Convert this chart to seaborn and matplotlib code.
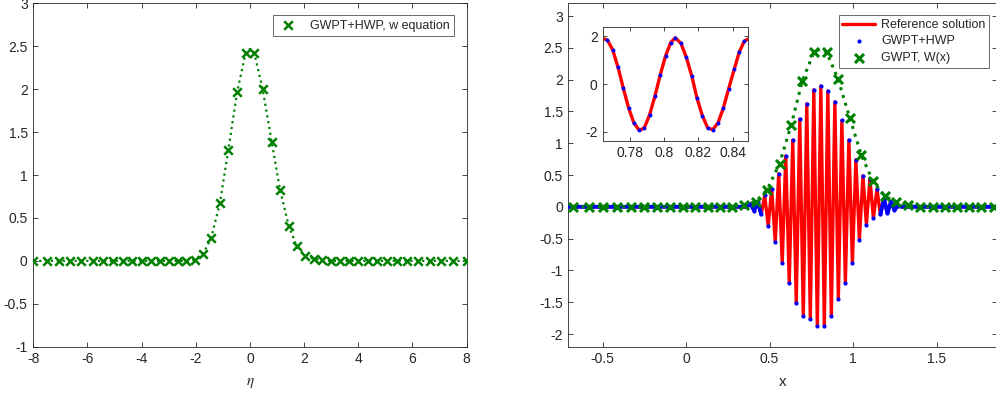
import numpy as np
import seaborn as sns
import matplotlib
matplotlib.use('Agg')
import matplotlib.pyplot as plt
from matplotlib.ticker import FuncFormatter, MultipleLocator

# ---- left panel: w(eta) from the w equation ----
eta_nodes = [-8.0, -7.5, -7.04, -6.63, -6.22, -5.81, -5.44, -5.07, -4.70, -4.36, -4.0, -3.66,
             -3.32, -3.0, -2.67, -2.37, -2.03, -1.72, -1.43, -1.11, -0.80, -0.47, -0.16,
             0.16, 0.47, 0.80, 1.11, 1.43, 1.72, 2.03, 2.37, 2.67, 3.0, 3.32, 3.66, 4.0,
             4.36, 4.70, 5.07, 5.44, 5.81, 6.22, 6.63, 7.04, 7.5, 8.0]
w_nodes = [0, 0, 0, 0, 0, 0, 0, 0, 0, 0, 0, 0,
           0, 0, 0, 0, 0.015, 0.085, 0.27, 0.67, 1.29, 1.97, 2.42,
           2.42, 2.00, 1.39, 0.83, 0.41, 0.175, 0.06, 0.025, 0.005, 0, 0, 0, 0,
           0, 0, 0, 0, 0, 0, 0, 0, 0, 0]
w_peak = (0.0, 2.47)  # top of the dotted curve between the two central nodes

# ---- right panel: GWPT envelope W(x) ----
x_nodes = [-0.674, -0.584, -0.498, -0.414, -0.33, -0.25, -0.174, -0.094, -0.018, 0.056,
           0.13, 0.206, 0.276, 0.346, 0.416, 0.486, 0.56, 0.63, 0.696, 0.766, 0.842,
           0.91, 0.98, 1.05, 1.12, 1.19, 1.26, 1.33, 1.40, 1.476, 1.55, 1.622, 1.696,
           1.766, 1.846]
W_nodes = [0, 0, 0, 0, 0, 0, 0, 0, 0, 0,
           0, 0, 0, 0.035, 0.08, 0.27, 0.68, 1.29, 1.98, 2.43, 2.43,
           2.01, 1.40, 0.81, 0.40, 0.17, 0.07, 0.026, 0, 0, 0, 0, 0,
           0, 0]
W_peak = (0.804, 2.48)

# reference solution: flat ends + extrema of the oscillation
ref_x = [-0.705, 0.36,
         0.387, 0.408, 0.429, 0.450, 0.471, 0.492, 0.513, 0.534, 0.555, 0.576,
         0.597, 0.618, 0.639, 0.660, 0.681, 0.702, 0.723, 0.744, 0.765, 0.786,
         0.807, 0.828, 0.849, 0.870, 0.891, 0.912, 0.933, 0.954, 0.975, 0.996,
         1.017, 1.038, 1.059, 1.080, 1.101, 1.122, 1.143, 1.164, 1.185, 1.206,
         1.227, 1.248, 1.269,
         1.29, 1.862]
ref_y = [0, 0,
         0.04, -0.06, 0.08, -0.12, 0.18, -0.30, 0.28, -0.55, 0.52, -0.88,
         0.80, -1.20, 1.05, -1.52, 1.38, -1.72, 1.62, -1.77, 1.84, -1.87,
         1.90, -1.87, 1.82, -1.72, 1.65, -1.45, 1.36, -1.20, 1.05, -0.88,
         0.74, -0.52, 0.49, -0.28, 0.44, -0.18, 0.28, -0.12, 0.13, -0.10,
         0.08, -0.05, 0.02,
         0, 0]

# zoomed window (inset): GWPT+HWP samples and curve ends
inset_x = [0.7668, 0.7699, 0.7730, 0.7761, 0.7792, 0.7823, 0.7855, 0.7884, 0.7915,
           0.7946, 0.7977, 0.8008, 0.8038, 0.8065, 0.8098, 0.8129, 0.8162, 0.8191,
           0.8223, 0.8254, 0.8283, 0.8314, 0.8345, 0.8376, 0.8410, 0.8439, 0.8468]
inset_y = [1.85, 1.44, 0.71, -0.17, -1.00, -1.63, -1.94, -1.83, -1.28,
           -0.50, 0.39, 1.18, 1.74, 1.94, 1.71, 1.13, 0.32, -0.57,
           -1.32, -1.83, -1.91, -1.63, -1.02, -0.21, 0.64, 1.35, 1.80]
inset_ends_x = [0.7644, 0.8488]
inset_ends_y = [1.90, 1.88]

green = '#008000'
red = '#ff0000'
blue = '#0000ff'
dark = '#262626'

sns.set_style('ticks')
plt.rcParams['font.family'] = ['Liberation Sans', 'DejaVu Sans']
plt.rcParams['mathtext.fontset'] = 'stix'

fmt = FuncFormatter(lambda v, p: f'{v:g}')


def matlab_axes(ax, size=10):
    ax.tick_params(direction='in', top=True, right=True, bottom=True, left=True,
                   length=3.5, width=0.6, colors=dark, labelsize=size, pad=4)
    for s in ax.spines.values():
        s.set_visible(True)
        s.set_linewidth(0.6)
        s.set_color(dark)
    ax.xaxis.set_major_formatter(fmt)
    ax.yaxis.set_major_formatter(fmt)


fig = plt.figure(figsize=(9.96, 3.94), dpi=100)

# ---------------- left ----------------
ax1 = fig.add_axes([0.0334, 0.12, 0.4351, 0.8716])
eta_line = np.insert(np.array(eta_nodes), 23, w_peak[0])
w_line = np.insert(np.array(w_nodes), 23, w_peak[1])
sns.lineplot(x=eta_line, y=w_line, ax=ax1, color=green, linestyle=':', linewidth=1.6,
             estimator=None, sort=False)
sns.scatterplot(x=eta_nodes, y=w_nodes, ax=ax1, marker='x', color=green, s=38,
                linewidth=1.8, label='GWPT+HWP, w equation', zorder=3)
ax1.set_xlim(-8, 8)
ax1.set_ylim(-1, 3)
ax1.xaxis.set_major_locator(MultipleLocator(2))
ax1.yaxis.set_major_locator(MultipleLocator(0.5))
ax1.set_xlabel(r'$\eta$', fontsize=11, color=dark, labelpad=7)
ax1.set_ylabel('')
matlab_axes(ax1)
leg1 = ax1.legend(loc='upper right', bbox_to_anchor=(0.972, 0.965), fontsize=9,
                  frameon=True, fancybox=False, edgecolor=dark, handlelength=1.6,
                  borderpad=0.35, handletextpad=1.0, borderaxespad=0)
leg1.get_frame().set_linewidth(0.6)

# ---------------- right ----------------
ax2 = fig.add_axes([0.5706, 0.12, 0.4304, 0.8716])
sns.lineplot(x=ref_x, y=ref_y, ax=ax2, color=red, linewidth=2.4, estimator=None,
             sort=False, label='Reference solution', zorder=2)
# low-amplitude tails, where the GWPT+HWP dots merge into a solid blue band
tail_l = [i for i, v in enumerate(ref_x) if v <= 0.46]
tail_r = [i for i, v in enumerate(ref_x) if v >= 1.16]
for idx in (tail_l, tail_r):
    sns.lineplot(x=[ref_x[i] for i in idx], y=[ref_y[i] for i in idx], ax=ax2,
                 color=blue, linewidth=2.8, estimator=None, sort=False, zorder=3)
sns.scatterplot(x=ref_x[2:-2], y=ref_y[2:-2], ax=ax2, marker='o', color=blue, s=9,
                linewidth=0, label='GWPT+HWP', zorder=4)
W_line_x = np.insert(np.array(x_nodes), 20, W_peak[0])
W_line_y = np.insert(np.array(W_nodes), 20, W_peak[1])
sns.lineplot(x=W_line_x, y=W_line_y, ax=ax2, color=green, linestyle=':', linewidth=2.2,
             estimator=None, sort=False, zorder=5)
sns.scatterplot(x=x_nodes, y=W_nodes, ax=ax2, marker='x', color=green, s=42,
                linewidth=2.2, label='GWPT, W(x)', zorder=6)
ax2.set_xlim(-0.705, 1.862)
ax2.set_ylim(-2.2, 3.2)
ax2.xaxis.set_major_locator(MultipleLocator(0.5))
ax2.set_yticks(np.arange(-2, 3.01, 0.5))
ax2.set_xlabel('x', fontsize=11, color=dark, labelpad=6)
ax2.set_ylabel('')
matlab_axes(ax2)
leg2 = ax2.legend(loc='upper right', bbox_to_anchor=(0.982, 0.965), fontsize=9,
                  frameon=True, fancybox=False, edgecolor=dark, handlelength=2.6,
                  borderpad=0.3, handletextpad=0.5, labelspacing=0.35, borderaxespad=0)
leg2.get_frame().set_linewidth(0.6)

# ---------------- inset ----------------
ax3 = fig.add_axes([0.6057, 0.6429, 0.145, 0.2878])
ax3.set_facecolor('white')
in_x = [inset_ends_x[0]] + inset_x + [inset_ends_x[1]]
in_y = [inset_ends_y[0]] + inset_y + [inset_ends_y[1]]
sns.lineplot(x=in_x, y=in_y, ax=ax3, color=red, linewidth=2.4, estimator=None, sort=False)
sns.scatterplot(x=inset_x, y=inset_y, ax=ax3, marker='o', color=blue, s=8, linewidth=0,
                zorder=4)
ax3.set_xlim(inset_ends_x[0], inset_ends_x[1])
ax3.set_ylim(-2.37, 2.38)
ax3.set_xticks([0.78, 0.8, 0.82, 0.84])
ax3.set_yticks([-2, 0, 2])
ax3.set_xlabel('')
ax3.set_ylabel('')
matlab_axes(ax3)
ax3.tick_params(length=3)

fig.savefig('out.png', dpi=100)
